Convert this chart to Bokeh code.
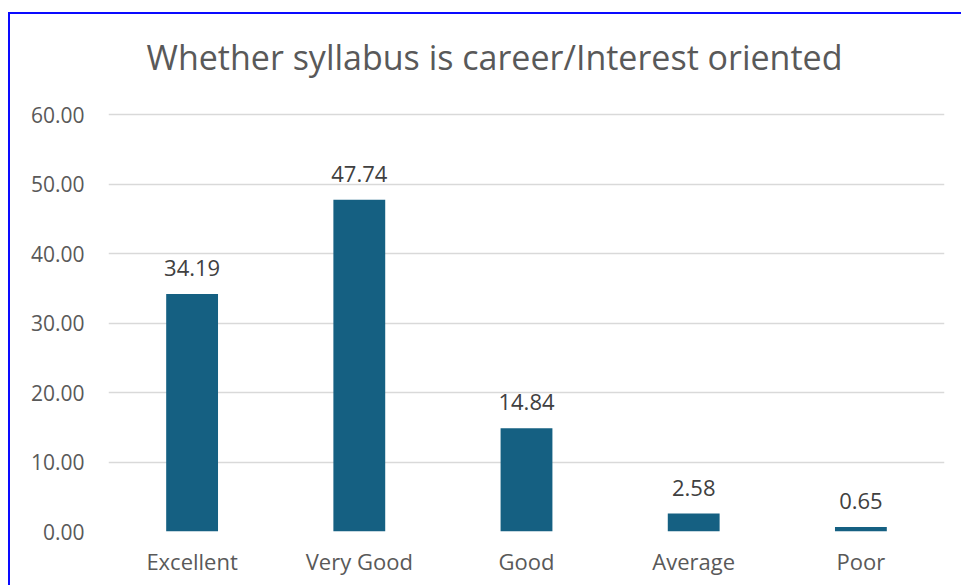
from bokeh.plotting import figure
from bokeh.models import ColumnDataSource, FactorRange, Range1d, FixedTicker, Label
from bokeh.embed import file_html
from bokeh.resources import INLINE
from bokeh.core.properties import value

categories = ["Excellent", "Very Good", "Good", "Average", "Poor"]
values = [34.19, 47.74, 14.84, 2.58, 0.65]
labels = ["34.19", "47.74", "14.84", "2.58", "0.65"]
y_ticks = [0, 10, 20, 30, 40, 50, 60]
y_tick_labels = {t: f"{t:.2f}" for t in y_ticks}
title_text = "Whether syllabus is career/Interest oriented"

FONT = "Open Sans"
GRAY = "#595959"
BAR = "#156082"

src = ColumnDataSource(dict(cat=categories, val=values, lab=labels))

# frame covers the title area too; the value axis 0..60 spans the lower 417 px
p = figure(
    width=953, height=573,
    x_range=FactorRange(*categories, range_padding=0),
    y_range=Range1d(0, 74.39),
    output_backend="svg", toolbar_location=None,
    min_border_left=98, min_border_right=19,
    min_border_top=0, min_border_bottom=56,
)
p.styles = {"border-top": "2px solid #0a0aff", "border-left": "2px solid #0a0aff",
            "margin-top": "12px", "margin-left": "8px"}

p.add_layout(Label(x=386, y=475, x_units="screen", y_units="screen",
                   text=title_text, text_align="center", text_baseline="middle",
                   text_font=FONT, text_font_size="34px", text_color=GRAY))

p.vbar(x="cat", top="val", width=0.31, source=src, color=BAR, line_color=None)
p.text(x="cat", y="val", text="lab", source=src, text_align="center",
       text_baseline="alphabetic", y_offset=-26, text_font=value(FONT),
       text_font_size="22px", text_color="#404040")

p.outline_line_color = None
p.background_fill_color = "white"
p.border_fill_color = "white"

p.xgrid.grid_line_color = None
p.ygrid.grid_line_color = "#d9d9d9"
p.ygrid.grid_line_width = 1.5
p.yaxis.ticker = FixedTicker(ticks=y_ticks)
p.yaxis.major_label_overrides = y_tick_labels

for ax in (p.xaxis[0], p.yaxis[0]):
    ax.axis_line_color = None
    ax.major_tick_line_color = None
    ax.minor_tick_line_color = None
    ax.major_tick_out = 0
    ax.major_tick_in = 0
    ax.major_label_text_font = FONT
    ax.major_label_text_font_size = "21px"
    ax.major_label_text_color = GRAY

p.xaxis.major_label_text_font_size = "22px"
p.yaxis.major_label_standoff = 24
p.xaxis.major_label_standoff = 14

open("out.html", "w").write(file_html(p, INLINE))
